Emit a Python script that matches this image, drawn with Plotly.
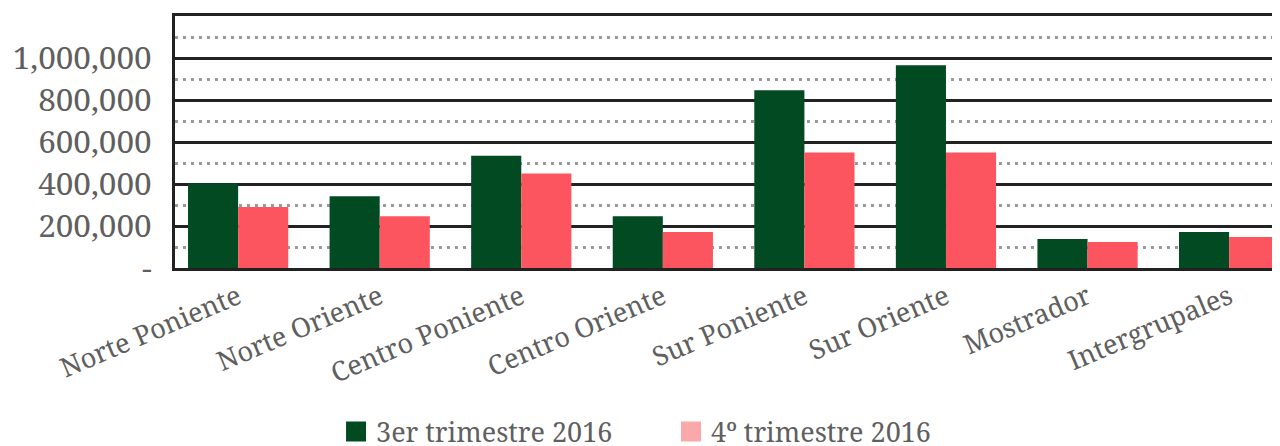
import plotly.graph_objects as go

categories = ["Norte Poniente", "Norte Oriente", "Centro Poniente", "Centro Oriente",
              "Sur Poniente", "Sur Oriente", "Mostrador", "Intergrupales"]
q3_2016 = [403000, 342000, 535000, 247000, 847000, 965000, 138000, 172000]
q4_2016 = [290000, 247000, 450000, 172000, 550000, 550000, 124000, 148000]
series_names = ["3er trimestre 2016", "4º trimestre 2016"]
tick_values = [0, 200000, 400000, 600000, 800000, 1000000]
tick_labels = ["-", "200,000", "400,000", "600,000", "800,000", "1,000,000"]

FONT = "Noto Serif, DejaVu Serif, serif"
GRAY = "#5f5f5f"
DARK = "#024A21"
RED = "#FC5560"
PINK = "#F9A9AA"
BAR_W = 0.354

fig = go.Figure()
fig.add_trace(go.Bar(x=categories, y=q3_2016, marker_color=DARK, marker_line_width=0,
                     width=BAR_W, offset=-BAR_W, showlegend=False, name=series_names[0]))
fig.add_trace(go.Bar(x=categories, y=q4_2016, marker_color=RED, marker_line_width=0,
                     width=BAR_W, offset=0, showlegend=False, name=series_names[1]))
# legend entries (the reference draws its swatches with their own colours)
for nm, col in zip(series_names, [DARK, PINK]):
    fig.add_trace(go.Scatter(x=[categories[0]], y=[None], mode="markers", name=nm,
                             marker=dict(symbol="square", size=16, color=col,
                                         line=dict(color=col, width=4))))

fig.update_layout(
    width=1280, height=446,
    margin=dict(l=167, r=0, t=8, b=186, autoexpand=False),
    barmode="overlay",
    plot_bgcolor="white", paper_bgcolor="white",
    font=dict(family=FONT, color=GRAY),
    legend=dict(orientation="h", xref="container", yref="paper",
                x=0.518, xanchor="center", y=-0.748, yanchor="bottom",
                font=dict(size=27, color=GRAY, family=FONT),
                itemsizing="trace", traceorder="normal",
                entrywidth=290, entrywidthmode="pixels"),
)
fig.update_xaxes(
    range=[-0.446, 7.416], showgrid=False, tickangle=-23, automargin=False,
    tickfont=dict(size=27, color=GRAY, family=FONT),
    showline=True, linecolor="#222222", linewidth=3, mirror=True,
    ticks="",
)
fig.update_yaxes(
    range=[0, 1200000], tickvals=tick_values, ticktext=tick_labels, automargin=False,
    tickfont=dict(size=31.5, color=GRAY, family=FONT),
    showgrid=True, gridcolor="#222222", gridwidth=3,
    showline=True, linecolor="#222222", linewidth=3,
    ticks="", ticklabelstandoff=14, zeroline=False,
    minor=dict(dtick=100000, tick0=100000, showgrid=True, gridcolor="#9a9a9a",
               griddash="3px,5px", gridwidth=3),
)
fig.write_html("out.html")
